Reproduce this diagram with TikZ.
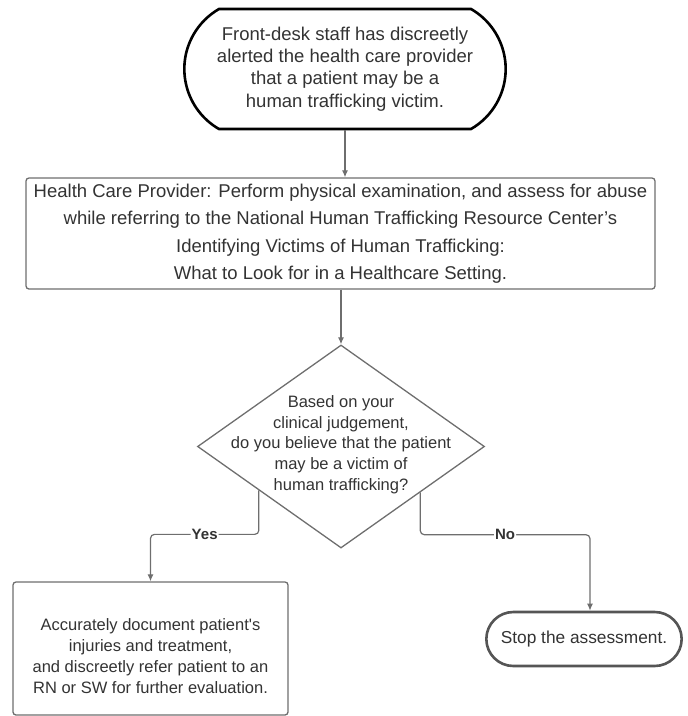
\documentclass[tikz,border=0pt]{standalone}
\usepackage{fontspec}
\setmainfont{Liberation Sans}
\usetikzlibrary{
    arrows.meta,
    calc,
    positioning,
    shapes.geometric,
    shapes.misc
}
\definecolor{textgray}{RGB}{51,51,51}
\definecolor{linegray}{RGB}{110,110,110}
\definecolor{edgegray}{RGB}{85,85,85}
\tikzset{
    % Box styles
    start box/.style={
        draw=black,
        fill=white,
        line width=2.6pt,
        rounded rectangle,
        rounded rectangle arc length=120,
        minimum width=328,
        minimum height=120,
        align=center,
        text=textgray,
        font=\fontsize{18.5}{22.3}\selectfont
    },
    stop box/.style={
        draw=edgegray,
        fill=white,
        line width=2.6pt,
        rounded rectangle,
        minimum width=202,
        minimum height=54,
        align=center,
        text=textgray,
        font=\fontsize{17.3}{21}\selectfont
    },
    process box/.style={
        draw=linegray,
        fill=white,
        line width=1.3pt,
        rectangle,
        rounded corners=3pt,
        align=center,
        text=textgray,
        font=\fontsize{16.5}{21}\selectfont
    },
    decision box/.style={
        draw=linegray,
        line width=1.3pt,
        diamond,
        inner sep=0pt,
        minimum width=287,
        minimum height=203
    },
    decision text/.style={
        align=center,
        text=textgray,
        font=\fontsize{16.5}{20.7}\selectfont
    },
    % Arrow styles
    flow arrow/.style={
        -{Latex[length=7pt,width=6pt]},
        line width=1.2pt,
        linegray,
        rounded corners=4pt
    },
    branch label/.style={
        fill=white,
        inner sep=1pt,
        text=textgray,
        font=\fontsize{15}{18}\selectfont\bfseries
    }
}

\begin{document}
\begin{tikzpicture}[x=1pt, y=-1pt]
    \useasboundingbox (0,0) rectangle (688,716);

    \node[start box] (alert) at (345,69)
        {Front-desk staff has discreetly\\
         alerted the health care provider\\
         that a patient may be a\\
         human trafficking victim.};
    \node[process box, minimum width=629, minimum height=111,
          font=\fontsize{18.5}{27.5}\selectfont] (examine) at (340.5,233.5)
        {Health Care Provider: Perform physical examination, and assess for abuse\\
         while referring to the National Human Trafficking Resource Center's\\
         Identifying Victims of Human Trafficking:\\
         What to Look for in a Healthcare Setting.};
    \node[decision box] (decision) at (341,446.5) {};
    \node[decision text] (question) at ($(decision.center)+(0,-2)$)
        {Based on your\\
         clinical judgement,\\
         do you believe that the patient\\
         may be a victim of\\
         human trafficking?};
    \node[process box, minimum width=275, minimum height=133] (document) at (150.5,648.5)
        {\rule{0pt}{28pt}Accurately document patient\textquotesingle s\\
         injuries and treatment,\\
         and discreetly refer patient to an\\
         RN or SW for further evaluation.};
    \node[stop box] (stop) at (584,639) {Stop the assessment.};

    % connectors
    \draw[flow arrow] (alert.south) -- (alert.south |- examine.north);
    \draw[flow arrow] (examine.south -| decision.north) -- (decision.north);
    \draw[flow arrow] ($(decision.west)!0.43!(decision.south)$)
        |- ($(document.north)+(0,-47)$) node[branch label, pos=0.75] {Yes}
        -- (document.north);
    \draw[flow arrow] ($(decision.east)!0.45!(decision.south)$)
        |- ($(stop.north)+(6,-76)$) node[branch label, pos=0.75] {No}
        -- ($(stop.north)+(6,0)$);
\end{tikzpicture}
\end{document}
